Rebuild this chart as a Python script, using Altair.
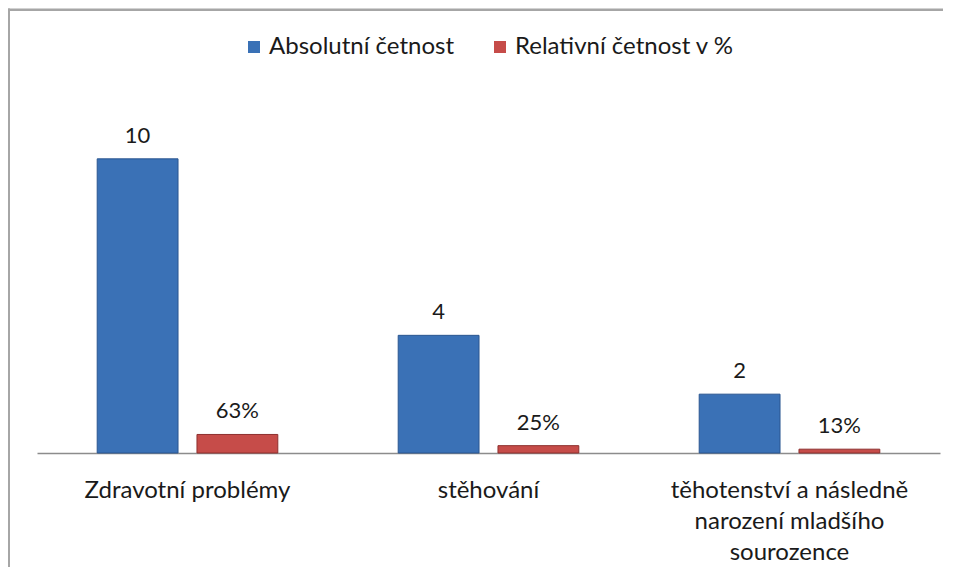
import altair as alt
import pandas as pd

categories = ["Zdravotní problémy", "stěhování", "těhotenství a následně narození mladšího sourozence"]
series_names = ["Absolutní četnost", "Relativní četnost v %"]
absolute = [10, 4, 2]
relative = [0.63, 0.25, 0.13]
abs_labels = ["10", "4", "2"]
rel_labels = ["63%", "25%", "13%"]

rows = []
for i, c in enumerate(categories):
    rows.append({"category": c, "series": series_names[0], "value": absolute[i], "label": abs_labels[i]})
    rows.append({"category": c, "series": series_names[1], "value": relative[i], "label": rel_labels[i]})
df = pd.DataFrame(rows)

FONT = "Lato"
# whole drawing (view) size; plot region placed inside it through scale ranges
VW, VH = 935, 559
PLOT_L, PLOT_R, PLOT_T, PLOT_B = 29, 932, 92, 445

x_enc = alt.X("category:N", sort=categories, title=None,
              scale=alt.Scale(range=[PLOT_L, PLOT_R], paddingInner=0.4, paddingOuter=0.2),
              axis=alt.Axis(labelAngle=0, ticks=False, domainColor="#8c8c8c", domainWidth=1.5,
                            offset=PLOT_B - VH,
                            labelFont=FONT, labelFontSize=24, labelColor="#1a1a1a",
                            labelBaseline="top", labelPadding=25, labelLineHeight=31,
                            labelLimit=400, grid=False,
                            labelExpr="datum.value == 'těhotenství a následně narození mladšího sourozence' ? ['těhotenství a následně', 'narození mladšího', 'sourozence'] : datum.value"))
xo_enc = alt.XOffset("series:N", sort=series_names,
                     scale=alt.Scale(paddingInner=0.19, paddingOuter=0))
y_enc = alt.Y("value:Q", scale=alt.Scale(domain=[0, 12], nice=False, range=[PLOT_B, PLOT_T]), axis=None)

frame_data = alt.Data(values=[{"k": 1}])
top_border = alt.Chart(frame_data).mark_rect(fill="#a6a6a6", strokeWidth=0).encode(
    x=alt.value(0), x2=alt.value(VW), y=alt.value(0.5), y2=alt.value(3)
)
left_border = alt.Chart(frame_data).mark_rect(fill="#a6a6a6", strokeWidth=0).encode(
    x=alt.value(0), x2=alt.value(2), y=alt.value(0.5), y2=alt.value(VH)
)

base = alt.Chart(df)

bars = base.mark_bar(strokeWidth=1).encode(
    x=x_enc, xOffset=xo_enc, y=y_enc,
    color=alt.Color("series:N", sort=series_names,
                    scale=alt.Scale(domain=series_names, range=["#3a71b6", "#c64c49"]),
                    legend=alt.Legend(title=None, orient="none", direction="horizontal",
                                      legendX=234, legendY=27,
                                      symbolType="square", symbolSize=144, symbolStrokeWidth=0,
                                      labelFont=FONT, labelFontSize=24, labelColor="#1a1a1a",
                                      labelLimit=400, labelOffset=3, columnPadding=33)),
    stroke=alt.Stroke("series:N", sort=series_names,
                      scale=alt.Scale(domain=series_names, range=["#2a5690", "#8e302e"]),
                      legend=None),
)

texts = base.mark_text(baseline="alphabetic", dy=-16, font=FONT, fontSize=22, color="#1a1a1a").encode(
    x=x_enc, xOffset=xo_enc, y=y_enc, text="label:N"
)

chart = alt.layer(top_border, left_border, bars, texts).properties(
    width=VW, height=VH,
    autosize=alt.AutoSizeParams(type="none"),
    padding=0,
).configure_view(stroke=None)

chart.save("out.html", embed_options={"renderer": "svg", "actions": False})
